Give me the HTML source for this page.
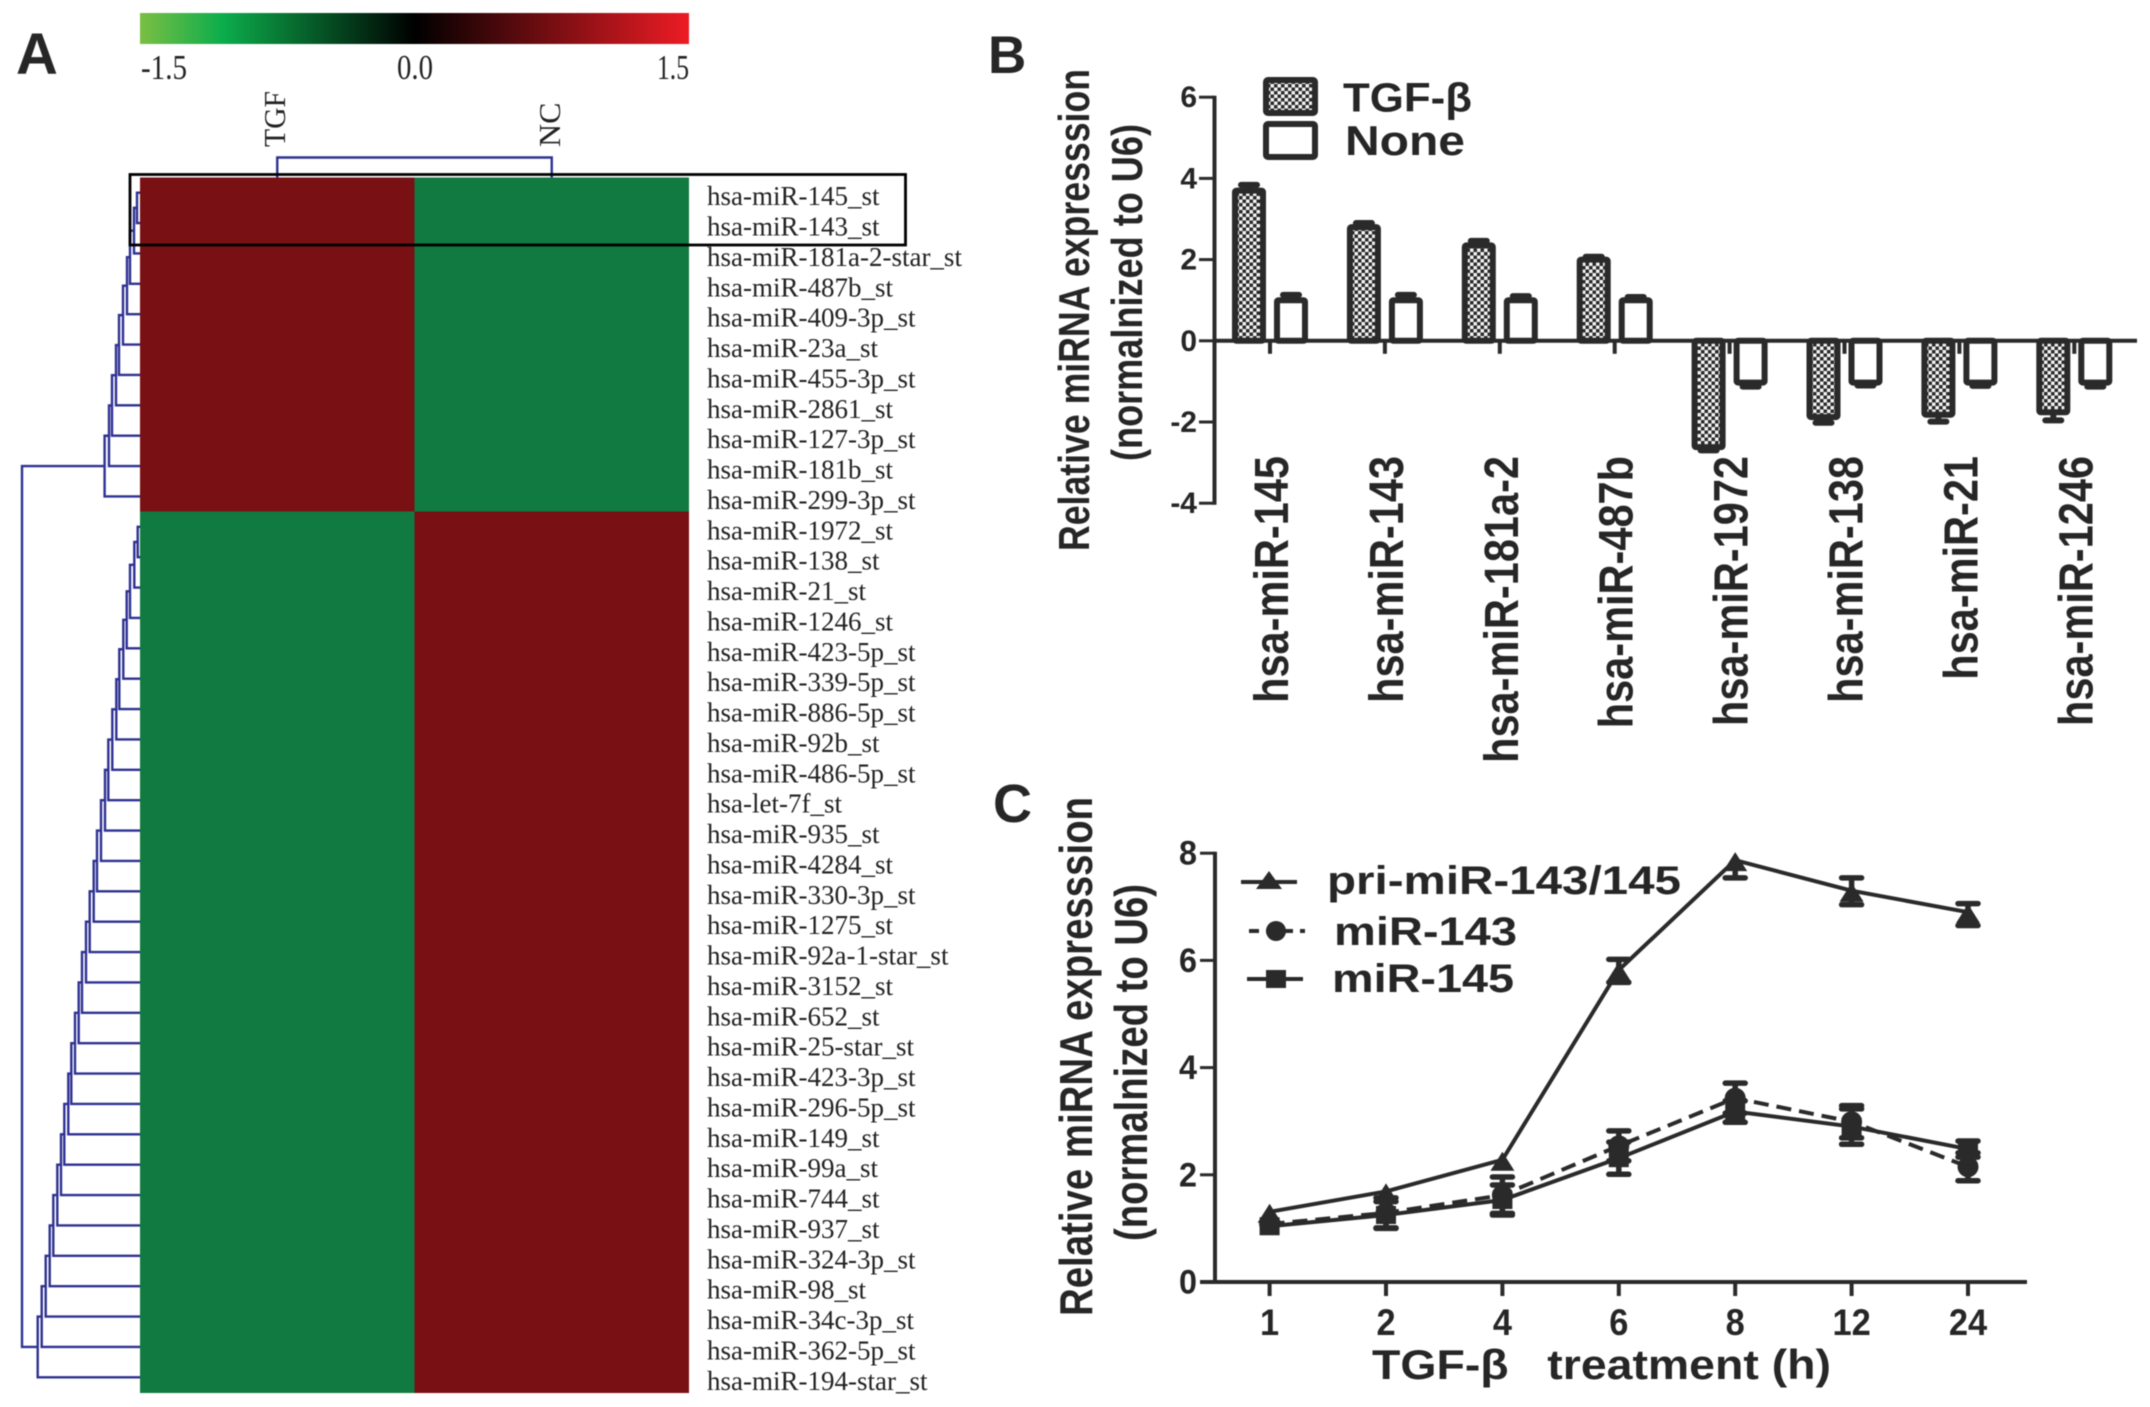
<!DOCTYPE html>
<html lang="en">
<head>
<meta charset="utf-8">
<title>miRNA expression figure</title>
<style>
  html,body{margin:0;padding:0;background:#fff;}
  svg{display:block;filter:blur(0.5px);}
  text{font-family:"Liberation Sans",sans-serif;fill:#262626;}
  .serif{font-family:"Liberation Serif",serif;fill:#222;}
  .b{font-weight:bold;}
</style>
</head>
<body>
<svg id="figure" xmlns="http://www.w3.org/2000/svg" width="2150" height="1407" viewBox="0 0 2150 1407">
  <defs>
    <linearGradient id="colorbar-gradient" x1="0" y1="0" x2="1" y2="0">
      <stop offset="0" stop-color="#7abf43"/>
      <stop offset="0.15" stop-color="#0cad4c"/>
      <stop offset="0.5" stop-color="#000000"/>
      <stop offset="1" stop-color="#ed1c24"/>
    </linearGradient>
    <pattern id="hatch" width="7" height="7" patternUnits="userSpaceOnUse">
      <rect width="7" height="7" fill="#f2f2f2"/>
      <rect width="3.5" height="3.5" fill="#2a2a2a"/>
      <rect x="3.5" y="3.5" width="3.5" height="3.5" fill="#2a2a2a"/>
    </pattern>
  </defs>
  <rect width="2150" height="1407" fill="#fff"/>

  <text class="b" x="16" y="74" font-size="58">A</text>
  <text class="b" x="988" y="73" font-size="53">B</text>
  <text class="b" x="993" y="822" font-size="54">C</text>

  <g id="panel-a">
    <rect x="140" y="13" width="549" height="31" fill="url(#colorbar-gradient)"/>
    <text class="serif" x="141" y="79" font-size="35" textLength="46" lengthAdjust="spacingAndGlyphs">-1.5</text>
    <text class="serif" x="397" y="79" font-size="35" textLength="36" lengthAdjust="spacingAndGlyphs">0.0</text>
    <text class="serif" x="657" y="79" font-size="35" textLength="32" lengthAdjust="spacingAndGlyphs">1.5</text>
    <text class="serif" transform="translate(285,147) rotate(-90)" font-size="31" textLength="56" lengthAdjust="spacingAndGlyphs">TGF</text>
    <text class="serif" transform="translate(560,147) rotate(-90)" font-size="31" textLength="44.5" lengthAdjust="spacingAndGlyphs">NC</text>
    <g id="heat-cells"></g>
    <g id="row-labels"></g>
    <g id="dendrogram" fill="none" stroke="#2e3192" stroke-width="2.4"></g>
    <rect x="130" y="174.5" width="775.5" height="70.5" fill="none" stroke="#000" stroke-width="2.8"/>
  </g>

  <g id="panel-b">
    <text class="b" transform="translate(1089,551) rotate(-90)" font-size="44" textLength="482" lengthAdjust="spacingAndGlyphs">Relative miRNA expresssion</text>
    <text class="b" transform="translate(1142,461) rotate(-90)" font-size="44" textLength="337" lengthAdjust="spacingAndGlyphs">(normalnized to U6)</text>
    <rect x="1266" y="80" width="49" height="33" rx="2" fill="url(#hatch)" stroke="#2a2a2a" stroke-width="6"/>
    <rect x="1266" y="124" width="49" height="33" rx="2" fill="#fff" stroke="#2a2a2a" stroke-width="6"/>
    <text class="b" x="1343" y="111.5" font-size="41" textLength="129" lengthAdjust="spacingAndGlyphs">TGF-β</text>
    <text class="b" x="1345" y="155" font-size="42" textLength="120" lengthAdjust="spacingAndGlyphs">None</text>
    <g id="bar-marks"></g>
    <g id="bar-axes"></g>
  </g>

  <g id="panel-c">
    <text class="b" transform="translate(1092,1316) rotate(-90)" font-size="46" textLength="519" lengthAdjust="spacingAndGlyphs">Relative miRNA expresssion</text>
    <text class="b" transform="translate(1147,1241) rotate(-90)" font-size="46" textLength="357" lengthAdjust="spacingAndGlyphs">(normalnized to U6)</text>
    <text class="b" x="1372" y="1379" font-size="42" textLength="459" lengthAdjust="spacingAndGlyphs" xml:space="preserve">TGF-β   treatment (h)</text>
    <g id="line-marks"></g>
    <g id="line-axes"></g>
    <g stroke="#2a2a2a" stroke-width="4" fill="#2a2a2a">
      <line x1="1241" y1="882" x2="1297" y2="882"/>
      <polygon points="1269,871 1282,889 1256,889" stroke="none"/>
      <line x1="1249" y1="931" x2="1305" y2="931" stroke-dasharray="10 7"/>
      <circle cx="1276" cy="931" r="10" stroke="none"/>
      <line x1="1247" y1="979" x2="1303" y2="979"/>
      <rect x="1266" y="970" width="20" height="18" stroke="none"/>
    </g>
    <text class="b" x="1327" y="894" font-size="40" textLength="354" lengthAdjust="spacingAndGlyphs">pri-miR-143/145</text>
    <text class="b" x="1334" y="945" font-size="40" textLength="183" lengthAdjust="spacingAndGlyphs">miR-143</text>
    <text class="b" x="1332" y="992" font-size="40" textLength="182" lengthAdjust="spacingAndGlyphs">miR-145</text>
  </g>
</svg>

<script>
/* ---------- Panel A data ---------- */
const rowNames = ["hsa-miR-145_st","hsa-miR-143_st","hsa-miR-181a-2-star_st","hsa-miR-487b_st","hsa-miR-409-3p_st","hsa-miR-23a_st","hsa-miR-455-3p_st","hsa-miR-2861_st","hsa-miR-127-3p_st","hsa-miR-181b_st","hsa-miR-299-3p_st","hsa-miR-1972_st","hsa-miR-138_st","hsa-miR-21_st","hsa-miR-1246_st","hsa-miR-423-5p_st","hsa-miR-339-5p_st","hsa-miR-886-5p_st","hsa-miR-92b_st","hsa-miR-486-5p_st","hsa-let-7f_st","hsa-miR-935_st","hsa-miR-4284_st","hsa-miR-330-3p_st","hsa-miR-1275_st","hsa-miR-92a-1-star_st","hsa-miR-3152_st","hsa-miR-652_st","hsa-miR-25-star_st","hsa-miR-423-3p_st","hsa-miR-296-5p_st","hsa-miR-149_st","hsa-miR-99a_st","hsa-miR-744_st","hsa-miR-937_st","hsa-miR-324-3p_st","hsa-miR-98_st","hsa-miR-34c-3p_st","hsa-miR-362-5p_st","hsa-miR-194-star_st"];
const heatTGF = [0.76,0.76,0.76,0.76,0.76,0.76,0.76,0.76,0.76,0.76,0.76,-0.73,-0.73,-0.73,-0.73,-0.73,-0.73,-0.73,-0.73,-0.73,-0.73,-0.73,-0.73,-0.73,-0.73,-0.73,-0.73,-0.73,-0.73,-0.73,-0.73,-0.73,-0.73,-0.73,-0.73,-0.73,-0.73,-0.73,-0.73,-0.73];
const heatNC = [-0.73,-0.73,-0.73,-0.73,-0.73,-0.73,-0.73,-0.73,-0.73,-0.73,-0.73,0.76,0.76,0.76,0.76,0.76,0.76,0.76,0.76,0.76,0.76,0.76,0.76,0.76,0.76,0.76,0.76,0.76,0.76,0.76,0.76,0.76,0.76,0.76,0.76,0.76,0.76,0.76,0.76,0.76];
const mergeDistTop = [3,6,10,13,17,21,24,28,31,35.4];
const mergeDistBottom = [2.3,5.7,10,13.3,16.7,20.7,23.7,27.7,31.7,35,39,43,46.3,50.3,54,58,61.3,65,68.7,71.7,75.7,79,82.7,86.7,90.3,94.3,98.3,102.3];
const rootDist = 118;
const columnDendroDist = 20;

/* ---------- Panel B data ---------- */
const barCategories = ["hsa-miR-145","hsa-miR-143","hsa-miR-181a-2","hsa-miR-487b","hsa-miR-1972","hsa-miR-138","hsa-miR-21","hsa-miR-1246"];
const barTGF = [3.7,2.8,2.35,2.0,-2.62,-1.88,-1.82,-1.76];
const barNone = [1.0,1.0,1.0,1.0,-1.03,-1.03,-1.03,-1.03];
const barTGFErr = [0.14,0.1,0.11,0.07,0.08,0.14,0.17,0.2];
const barNoneErr = [0.13,0.13,0.1,0.08,0.1,0.07,0.08,0.1];
const barYTicks = [6,4,2,0,-2,-4];

/* ---------- Panel C data ---------- */
const lineCategories = ["1","2","4","6","8","12","24"];
const priValues = [1.31,1.69,2.28,5.82,7.87,7.3,6.9];
const priErrUp = [0.03,0.03,0.03,0.2,0.05,0.24,0.16];
const priErrDown = [0.03,0.03,0.03,0.23,0.33,0.26,0.25];
const mir143Values = [1.08,1.29,1.62,2.54,3.43,2.99,2.15];
const mir143Err = [0.04,0.28,0.34,0.28,0.28,0.3,0.26];
const mir145Values = [1.04,1.25,1.53,2.31,3.18,2.9,2.48];
const mir145Err = [0.08,0.25,0.28,0.3,0.2,0.33,0.15];
const lineYTicks = [8,6,4,2,0];

/* ---------- helpers ---------- */
const NS = "http://www.w3.org/2000/svg";
const INK = '#2a2a2a';
function add(parent, tag, props) {
  const el = document.createElementNS(NS, tag);
  for (const k in props) el.setAttribute(k, props[k]);
  parent.appendChild(el);
  return el;
}
function squeeze(el, ratio) {
  el.setAttribute('textLength', (el.getComputedTextLength() * ratio).toFixed(1));
  el.setAttribute('lengthAdjust', 'spacingAndGlyphs');
}

/* ---------- Panel A ---------- */
const rowH = 30.375;
const rowTop = 177.5;
const rowCenter = i => rowTop + (i + 0.5) * rowH;
const colX = j => 140 + j * 274.5;
const distX = d => 140 - d;
function heatColor(v) {
  if (v >= 0) {
    const t = v / 1.5;
    return `rgb(${Math.round(239*t)},${Math.round(32*t)},${Math.round(40*t)})`;
  }
  const t = -v / 1.05;
  return `rgb(${Math.round(23*t)},${Math.round(175*t)},${Math.round(94*t)})`;
}
const cellsG = document.getElementById('heat-cells');
const heatColumns = [heatTGF, heatNC];
heatColumns.forEach((col, j) => {
  col.forEach((v, i) => {
    const cell = add(cellsG, 'rect', {x: colX(j), y: rowTop + i * rowH, width: 274.5, height: rowH + 0.5, fill: heatColor(v), 'shape-rendering': 'crispEdges'});
    
    
  });
});
const labelsG = document.getElementById('row-labels');
rowNames.forEach((name, i) => {
  const t = add(labelsG, 'text', {x: 707, y: rowCenter(i) + 12.5, 'font-size': 27, class: 'serif'});
  t.textContent = name;
  
  
});

const dendroG = document.getElementById('dendrogram');
function dendroPath(d) {
  const p = add(dendroG, 'path', {d: d});
  
  
}
function buildCluster(firstRow, merges) {
  let nodeY = rowCenter(firstRow);
  let nodeX = distX(0);
  merges.forEach((d, k) => {
    const leafY = rowCenter(firstRow + k + 1);
    const x = distX(d);
    dendroPath(`M${nodeX} ${nodeY}H${x}V${leafY}H${distX(0)}`);
    nodeY = (nodeY + leafY) / 2;
    nodeX = x;
  });
  return {x: nodeX, y: nodeY};
}
const topNode = buildCluster(0, mergeDistTop);
const bottomNode = buildCluster(11, mergeDistBottom);
dendroPath(`M${topNode.x} ${topNode.y}H${distX(rootDist)}V${bottomNode.y}H${bottomNode.x}`);
const colC0 = colX(0.5), colC1 = colX(1.5);
dendroPath(`M${colC0} ${rowTop}V${rowTop - columnDendroDist}H${colC1}V${rowTop}`);

/* ---------- Panel B ---------- */
const bZero = 340.8;
const bUnit = 40.6;
const yB = v => bZero - v * bUnit;
const xB = i => 1270 + i * 114.9;
const bMarks = document.getElementById('bar-marks');
const bAxes = document.getElementById('bar-axes');
function drawBar(i, value, err, offset, fill, name) {
  const cx = xB(i) + offset;
  const yv = yB(value);
  const sign = value >= 0 ? 1 : -1;
  const yEnd = yB(value + sign * err);
  const eb = add(bMarks, 'path', {d: `M${cx} ${yv}V${yEnd}M${cx - 8} ${yEnd}H${cx + 8}`, fill: 'none', stroke: INK, 'stroke-width': 6, 'stroke-linecap': 'round'});
  
  
  const bar = add(bMarks, 'rect', {x: cx - 14, y: Math.min(yv, bZero), width: 28, height: Math.abs(yv - bZero), rx: 1.5, fill: fill, stroke: INK, 'stroke-width': 6});
  
  
}
barCategories.forEach((c, i) => {
  drawBar(i, barTGF[i], barTGFErr[i], -21, 'url(#hatch)', 'bar-tgf');
  drawBar(i, barNone[i], barNoneErr[i], 21, '#fff', 'bar-none');
});
const bYAxis = add(bAxes, 'line', {x1: 1214.5, x2: 1214.5, y1: yB(6) - 1.5, y2: yB(-4) + 1.5, stroke: INK, 'stroke-width': 4});


const bXAxis = add(bAxes, 'line', {x1: 1214.5, x2: 2137, y1: yB(0), y2: yB(0), stroke: INK, 'stroke-width': 4});


barYTicks.forEach(v => {
  const tick = add(bAxes, 'line', {x1: 1199, x2: 1214.5, y1: yB(v), y2: yB(v), stroke: INK, 'stroke-width': 3});
  
  
  const t = add(bAxes, 'text', {x: 1197, y: yB(v) + 10, 'font-size': 30, 'text-anchor': 'end', class: 'b'});
  t.textContent = v;
  
  
});
barCategories.forEach((c, i) => {
  const tick = add(bAxes, 'line', {x1: xB(i), x2: xB(i), y1: yB(0), y2: yB(0) + 13, stroke: INK, 'stroke-width': 4});
  
  
  const t = add(bAxes, 'text', {transform: `translate(${xB(i) + 18},456) rotate(-90)`, 'font-size': 48, 'text-anchor': 'end', class: 'b'});
  t.textContent = c;
  
  
  squeeze(t, 0.865);
});

/* ---------- Panel C ---------- */
const cZero = 1282;
const cUnit = 53.6;
const minVisibleErr = 0.1;
const yC = v => cZero - v * cUnit;
const xC = i => 1269.6 + i * 116.4;
const cMarks = document.getElementById('line-marks');
const cAxes = document.getElementById('line-axes');
function drawSeries(values, errUp, errDown, dash, marker, name) {
  const pts = values.map((v, i) => `${xC(i)},${yC(v)}`).join(' ');
  const line = add(cMarks, 'polyline', {points: pts, fill: 'none', stroke: INK, 'stroke-width': 4});
  if (dash) line.setAttribute('stroke-dasharray', dash);
  
  
  values.forEach((v, i) => {
    const x = xC(i), y = yC(v), hi = yC(v + errUp[i]), lo = yC(v - errDown[i]);
    let d = `M${x} ${hi}V${lo}`;
    if (errUp[i] >= minVisibleErr) d += `M${x - 10} ${hi}H${x + 10}`;
    if (errDown[i] >= minVisibleErr) d += `M${x - 10} ${lo}H${x + 10}`;
    const eb = add(cMarks, 'path', {d: d, fill: 'none', stroke: INK, 'stroke-width': 5.5, 'stroke-linecap': 'round'});
    
    
    let m;
    if (marker === 'triangle') m = add(cMarks, 'polygon', {points: `${x},${y - 8} ${x + 12},${y + 11} ${x - 12},${y + 11}`, fill: INK});
    if (marker === 'circle') m = add(cMarks, 'circle', {cx: x, cy: y, r: 10.5, fill: INK});
    if (marker === 'square') m = add(cMarks, 'rect', {x: x - 10, y: y - 9, width: 20, height: 18, fill: INK});
    
    
  });
}
drawSeries(priValues, priErrUp, priErrDown, null, 'triangle', 'pri-mir');
drawSeries(mir143Values, mir143Err, mir143Err, '15 8', 'circle', 'mir143');
drawSeries(mir145Values, mir145Err, mir145Err, null, 'square', 'mir145');

const cYAxis = add(cAxes, 'line', {x1: 1215, x2: 1215, y1: yC(8) - 1.5, y2: yC(0), stroke: INK, 'stroke-width': 4});


const cXAxis = add(cAxes, 'line', {x1: 1200, x2: 2027, y1: yC(0), y2: yC(0), stroke: INK, 'stroke-width': 4});


lineYTicks.forEach(v => {
  const tick = add(cAxes, 'line', {x1: 1200, x2: 1215, y1: yC(v), y2: yC(v), stroke: INK, 'stroke-width': 3});
  
  
  const t = add(cAxes, 'text', {x: 1197, y: yC(v) + 11.5, 'font-size': 34, 'text-anchor': 'end', class: 'b'});
  t.textContent = v;
  
  
  squeeze(t, 0.95);
});
lineCategories.forEach((c, i) => {
  const tick = add(cAxes, 'line', {x1: xC(i), x2: xC(i), y1: yC(0), y2: yC(0) + 14, stroke: INK, 'stroke-width': 4});
  
  
  const t = add(cAxes, 'text', {x: xC(i), y: 1335, 'font-size': 37, 'text-anchor': 'middle', class: 'b'});
  t.textContent = c;
  
  
  squeeze(t, 0.93);
});
</script>
</body>
</html>
